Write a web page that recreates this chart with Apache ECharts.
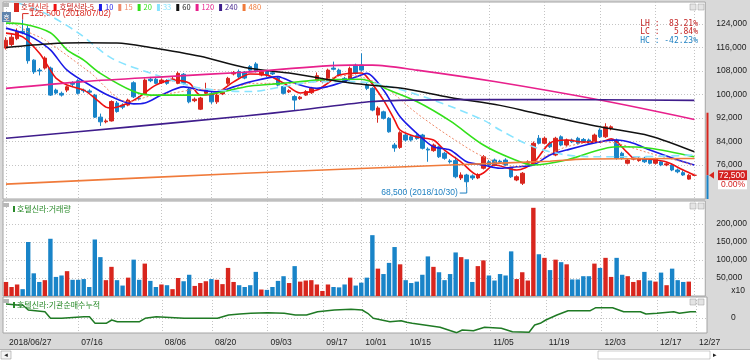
<!DOCTYPE html>
<html><head><meta charset="utf-8">
<script src="https://cdn.jsdelivr.net/npm/echarts@6/dist/echarts.min.js"></script>
<style>html,body{margin:0;padding:0;background:#fff}#c{width:750px;height:360px}</style>
</head><body><div id="c"></div>
<script>
// ---------- DATA ----------
const tickIdx = [0,13,28,37,47,57,64,72,87,97,107,117,124];
const tickLabels = ['2018/06/27','07/16','08/06','08/20','09/03','09/17','10/01','10/15','11/05','11/19','12/03','12/17','12/27'];
const priceTicks = [76000,84000,92000,100000,108000,116000,124000];
const volTicks = [50000,100000,150000,200000];
const instTicks = [0];

const open = [115800,117000,119000,121500,122500,111700,108300,109000,109000,101500,
100400,101500,104000,104700,101500,101200,99800,92300,90700,91000,
97100,96400,96400,104000,98800,100200,105200,105200,104000,104700,
104900,103800,106900,101800,97900,95000,100400,100200,97500,100200,
103800,107000,107800,107600,109500,110400,106600,107800,107400,105600,
102700,100900,99300,98600,99800,100600,104700,104400,104400,109000,
108300,105500,105200,110000,110000,103200,102100,93000,94100,91900,
82800,82000,86200,85600,86000,86200,81400,80900,82200,80000,
77400,77500,71600,72600,72300,71600,74900,77100,77700,77300,
77700,74900,70900,69800,76600,76600,85100,83400,83400,79400,
85600,82800,84500,85100,84700,84500,83900,87900,85600,88500,
84500,80000,76600,78000,77500,78300,77700,76600,77100,76000,
76000,74300,73400,71200,72500];
const high = [119500,120500,122500,125500,123500,112000,109000,113000,109500,102000,
101000,103000,104500,105200,102000,101800,100200,93500,91600,98000,
97800,97000,98600,104500,99500,105500,106000,106000,105500,105200,
106000,107800,107300,102200,99000,99200,104000,100800,100500,101500,
106000,108000,108500,108000,110000,111000,108300,108300,107900,106000,
103000,101800,99800,99500,101500,102600,107500,105500,108800,111200,
108800,106000,109500,110500,114000,104000,102500,96000,94500,92300,
83500,87500,86800,86200,86500,86600,82000,83300,82600,80500,
78000,78800,73500,73000,72800,73200,79400,77700,78200,77800,
78300,75400,72500,73600,77600,84000,86200,85700,84000,85600,
86100,85000,85000,85600,85200,85000,86700,88500,90200,89500,
85000,80500,78200,78800,78800,78800,78200,78500,77600,76900,
76500,74800,74200,72900,72500];
const low = [115300,116500,118500,120500,110500,107000,106500,108500,99500,100000,
99300,100800,102500,100000,100600,100300,92000,89300,90200,90800,
93800,95000,96000,98800,98000,99800,104200,103500,103600,103300,
104500,103500,103200,97000,97400,94700,100000,96800,96800,99800,
103300,106500,105500,105200,108000,107500,106200,106000,106600,102800,
100000,100500,94700,98200,99500,100200,104300,104000,104000,108200,
106200,104000,104800,106800,107800,101500,94300,90400,91500,87000,
80500,81500,84000,84000,84600,81300,77100,80500,78400,77800,
76500,71500,70900,68500,70900,71200,74500,75500,75600,76300,
75700,71600,70500,69200,76200,76200,83000,83000,81800,79000,
82400,82300,83500,83000,83500,83000,83500,85200,85200,87800,
77800,77800,76200,77600,77100,76700,76200,76200,75600,75600,
73900,73200,72300,71000,72500];
const close = [118500,119500,121500,121000,111500,107700,108000,112400,99800,100500,
99800,102600,103500,100400,101300,100800,92300,90700,91000,97600,
94200,95700,98100,99200,98500,104900,104700,103800,104900,103800,
105300,107200,103800,97500,98400,98800,101500,97500,99800,100800,
105500,107400,106000,105600,108300,107800,107800,106600,107000,103200,
100400,101300,98100,99100,101000,102100,106400,104900,108300,108600,
106600,104400,108900,107200,108300,102100,94700,95400,91900,87300,
81800,87000,84500,84500,85000,81700,81100,82800,78800,78300,
77100,72000,72600,70300,71600,72600,78800,76000,76000,77000,
76000,72000,72000,73200,77100,83400,83400,85100,82200,85100,
82800,84500,83900,83400,83900,83400,86200,85600,89000,89000,
78300,78300,77700,78300,78300,77100,76600,78000,76000,76400,
74300,73700,72600,72500,72500];
const volume = [39000,25000,32000,19000,150000,63000,39000,44000,159000,53000,
57000,69000,45000,45000,47000,25000,157000,108000,44000,81000,
44000,29000,51000,101000,45000,90000,42000,25000,32000,30000,
19000,50000,41000,59000,28000,36000,41000,47000,45000,33000,
78000,39000,30000,25000,30000,67000,18000,17000,25000,42000,
55000,36000,83000,40000,43000,44000,32000,14000,32000,25000,
24000,32000,51000,29000,37000,51000,169000,76000,61000,92000,
136000,88000,44000,36000,40000,59000,110000,81000,66000,44000,
61000,121000,108000,102000,39000,83000,99000,57000,43000,61000,
57000,124000,47000,66000,43000,245000,116000,106000,72000,101000,
94000,88000,46000,46000,55000,55000,90000,78000,106000,53000,
106000,59000,55000,39000,44000,67000,43000,40000,65000,30000,
76000,44000,39000,40000,0];

const ma5 = [[0,120900],[3,119600],[6,114100],[8,108300],[9,105600],[11,103200],[14,101500],[16,98800],[18,95700],[19,95400],[22,97100],[24,99200],[27,103200],[30,104900],[33,103900],[35,99800],[38,100500],[41,104300],[44,107000],[47,106600],[50,103900],[53,100500],[56,101500],[58,103900],[60,106600],[64,107300],[65,106000],[68,98100],[70,91300],[71,87900],[74,85500],[77,84500],[79,81100],[82,77000],[85,72600],[86,73300],[88,76000],[92,74300],[95,76700],[98,83500],[101,84500],[104,83800],[107,83800],[109,84900],[112,80100],[113,78400],[116,78000],[119,77000],[122,74300],[124,72600]];
const ma10 = [[0,122600],[3,120900],[5,119200],[8,115200],[11,108300],[16,102200],[19,99200],[23,96800],[25,97100],[28,99800],[32,102600],[35,101500],[38,100900],[41,102600],[44,104300],[49,106100],[50,105500],[53,103200],[56,102100],[58,102700],[60,103800],[64,106600],[65,107200],[68,101500],[71,92400],[74,86800],[77,82200],[80,81100],[83,77100],[86,76000],[89,74900],[92,75400],[95,76000],[98,79400],[101,81100],[107,83900],[110,84500],[113,83400],[116,81100],[122,77100],[124,76000]];
const ma15 = [[0,126000],[4,121300],[7,118600],[15,107700],[22,97500],[26,99500],[30,100500],[35,101800],[40,101500],[44,103800],[53,103800],[62,106600],[68,102700],[74,93600],[80,85600],[86,78800],[92,75400],[95,77100],[101,82200],[107,83900],[110,83400],[116,80000],[124,76000]];
const ma20 = [[0,124300],[3,124000],[8,121000],[11,115200],[14,111700],[17,107200],[23,101000],[26,99800],[35,99800],[44,102900],[50,103800],[56,104900],[64,105200],[69,101500],[74,97600],[80,91000],[86,82800],[91,78300],[95,76000],[101,77700],[110,82200],[116,81700],[124,78800]];
const ma33 = [[0,132500],[7,127700],[13,121000],[19,112400],[26,107300],[35,102200],[44,101000],[50,102700],[56,104400],[62,104400],[68,103200],[77,98100],[86,91300],[89,87900],[95,82200],[101,79400],[107,78800],[113,78800],[124,79400]];
const ma60 = [[0,116000],[8,117300],[14,117600],[20,117500],[26,116000],[35,113000],[43,109200],[51,107300],[62,103900],[71,102200],[80,99000],[89,96300],[95,93800],[107,89000],[116,85900],[124,80500]];
const ma120 = [[0,102100],[14,104400],[29,106100],[43,107600],[62,110000],[66,110000],[74,108300],[88,104400],[107,98100],[124,91500]];
const ma240 = [[0,85100],[22,88900],[43,92700],[53,94700],[66,97600],[74,98100],[89,98300],[107,98200],[124,98000]];
const ma480 = [[0,69500],[43,73200],[80,76000],[98,77300],[104,78000],[124,78200]];
const inst = [[0,14],[2,13],[3,13],[4,8],[7,6.3],[8,-0.3],[10,-0.3],[14,1.3],[15,1.3],[16,-5.3],[18,-5.3],[19,-2],[20,-3.7],[24,-3.7],[25,-0.3],[27,1.3],[32,-0.3],[38,-0.3],[40,3],[42,4],[44,4.7],[47,5.3],[50,4.7],[52,3],[54,3],[56,6.3],[59,8],[62,8.7],[64,8],[65,4.7],[66,-0.3],[69,-3.7],[71,-2.7],[72,-4.3],[73,-5.3],[78,-9.3],[81,-14.7],[82,-12],[84,-12.7],[86,-9.3],[89,-10.3],[91,-13.7],[94,-14.3],[95,-7],[96,-5.3],[97,-2],[99,3],[101,7.3],[105,7.3],[106,10.3],[109,10.3],[111,6.3],[114,6.3],[115,4],[117,4.7],[120,6.3],[121,4.7],[123,6.3],[124,6.3]];
const hiNote = {idx:3, text:'(2018/07/02)'};
const loNote = {idx:83, text:'(2018/10/30)'};
const rangeTop = 93800;

// ---------- STYLE ----------
const RED = '#d8261e', BLUE = '#1984c8';
const NUM = 'Liberation Sans';
const KR = 'Noto Sans CJK KR';
const fmt = v => Math.round(v).toLocaleString('en-US');
const X_MIN = -0.54, X_MAX = 125.97;
const isUp = i => close[i] > open[i] ? true : close[i] < open[i] ? false : (i > 0 ? close[i] >= close[i-1] : true);

const maDefs = [
  {name:'호텔신라-5', data:ma5, color:'#ee1111', width:1.6},
  {name:'10', data:ma10, color:'#1a1ae6', width:1.6},
  {name:'15', data:ma15, color:'#f08a6a', width:1, type:[2,2]},
  {name:'20', data:ma20, color:'#33e01a', width:1.6},
  {name:'33', data:ma33, color:'#88e4ff', width:1.6, type:[8,5]},
  {name:'60', data:ma60, color:'#111111', width:1.5},
  {name:'120', data:ma120, color:'#e8208c', width:1.6},
  {name:'240', data:ma240, color:'#3f1d8c', width:1.6},
  {name:'480', data:ma480, color:'#f07a3a', width:1.6}
];

const grids = [
  {left:3, top:2, width:704, height:197},
  {left:3, top:201, width:704, height:95},
  {left:3, top:297, width:704, height:36}
].map(g => Object.assign(g, {show:true, backgroundColor:'#ffffff', borderColor:'#a4a4a4', borderWidth:1}));

const dotted = {show:true, lineStyle:{color:'#c4c4c4', type:[1,2], width:1}};

const xAxes = [0,1,2].map(g => ({
  type:'value', gridIndex:g, min:X_MIN, max:X_MAX,
  axisLine:{show:false},
  axisTick:{show:false, customValues:tickIdx},
  axisLabel:{show:g===2, customValues:tickIdx, formatter:v => tickLabels[tickIdx.indexOf(Math.round(v))] || '',
    align:'left', padding:[0,0,0,3], margin:5, fontSize:8.5, fontFamily:NUM, color:'#222'},
  splitLine:dotted
}));

const yAxes = [
  {type:'value', gridIndex:0, position:'right', min:64430, max:131490,
   axisLine:{show:false}, axisTick:{show:false, customValues:priceTicks},
   axisLabel:{customValues:priceTicks, formatter:fmt, margin:11, align:'left', fontSize:8.5, fontFamily:NUM, color:'#222'},
   splitLine:dotted},
  {type:'value', gridIndex:1, position:'right', min:0, max:263900,
   axisLine:{show:false}, axisTick:{show:false, customValues:volTicks},
   axisLabel:{customValues:volTicks, formatter:fmt, margin:11, align:'left', fontSize:8.5, fontFamily:NUM, color:'#222'},
   splitLine:dotted},
  {type:'value', gridIndex:2, position:'right', min:-15, max:21,
   axisLine:{show:false}, axisTick:{show:false, customValues:instTicks},
   axisLabel:{customValues:instTicks, formatter:v => fmt(v), margin:24, align:'left', fontSize:8.5, fontFamily:NUM, color:'#222'},
   splitLine:dotted}
];

const series = [
  {name:'호텔신라', type:'candlestick', xAxisIndex:0, yAxisIndex:0,
   data: open.map((o,i) => [i, o, close[i], low[i], high[i]]),
   encode:{x:0, y:[1,2,3,4]}, barWidth:4, z:2,
   itemStyle:{color:RED, color0:BLUE, borderColor:RED, borderColor0:BLUE, borderWidth:1}},
  {name:'거래량', type:'bar', xAxisIndex:1, yAxisIndex:1, barWidth:4.4,
   data: volume.map((v,i) => ({value:[i, v], itemStyle:{color: isUp(i) ? RED : BLUE}}))},
  {name:'기관순매수누적', type:'line', xAxisIndex:2, yAxisIndex:2, data:inst, showSymbol:false,
   lineStyle:{color:'#1f7a24', width:1.5}, color:'#1f7a24'}
].concat(maDefs.map(m => ({
  name:m.name, type:'line', xAxisIndex:0, yAxisIndex:0, data:m.data, showSymbol:false, smooth:0.3, z:3,
  color:m.color, lineStyle:{color:m.color, width:m.width, type:m.type || 'solid'}
})));

const legendItems = [{name:'호텔신라', color:'#d42a20'}].concat(maDefs.map(m => ({name:m.name, color: m.name==='호텔신라-5' ? '#c41a14' : m.color})));

const option = {
  animation:false,
  backgroundColor:'#d9d9d9',
  grid:grids, xAxis:xAxes, yAxis:yAxes, series,
  legend:{left:14, top:3, icon:'rect', itemWidth:3, itemHeight:7, itemGap:5, padding:0, selectedMode:false,
    textStyle:{fontSize:7.5, fontFamily:KR, padding:[0,0,0,-2]},
    data: legendItems.map(l => ({name:l.name, textStyle:{color:l.color}}))}
};

const chart = echarts.init(document.getElementById('c'));
chart.setOption(option);

// ---------- ANNOTATIONS (positions from the axes) ----------
const P = (g, x, y) => chart.convertToPixel({gridIndex:g}, [x, y]);
const g = [];
const last = close.length - 1;
const hiVal = Math.max(...high), loVal = Math.min(...low), lastClose = close[last];
const txt = (x, y, text, color, size, align, font, extra) => ({type:'text', x, y, silent:true,
  style:Object.assign({text, fill:color, fontSize:size, fontFamily:font || NUM, align:align || 'left', verticalAlign:'middle'}, extra || {})});

// LH / LC / HC box
g.push(txt(698, 24, 'LH :  ' + ((hiVal/loVal-1)*100).toFixed(2) + '%', '#c42424', 8, 'right', 'DejaVu Sans Mono'));
g.push(txt(698, 32, 'LC :   ' + ((lastClose/loVal-1)*100).toFixed(2) + '%', '#c42424', 8, 'right', 'DejaVu Sans Mono'));
g.push(txt(698, 40.5, 'HC : ' + ((lastClose/hiVal-1)*100).toFixed(2) + '%', '#1c7fc0', 8, 'right', 'DejaVu Sans Mono'));

// high / low notes
const ph = P(0, hiNote.idx, high[hiNote.idx]);
g.push({type:'polyline', silent:true, shape:{points:[[ph[0], ph[1]], [ph[0], ph[1]-6], [ph[0]+6, ph[1]-6]]}, style:{stroke:RED, lineWidth:1, fill:null}});
g.push(txt(ph[0]+7, ph[1]-6, fmt(high[hiNote.idx]) + ' ' + hiNote.text, RED, 8.5));
const pl = P(0, loNote.idx, low[loNote.idx]);
g.push({type:'polyline', silent:true, shape:{points:[[pl[0], pl[1]], [pl[0], pl[1]+6], [pl[0]-7, pl[1]+6]]}, style:{stroke:'#1c7fc0', lineWidth:1, fill:null}});
g.push(txt(pl[0]-9, pl[1]+6, fmt(low[loNote.idx]) + ' ' + loNote.text, '#1c7fc0', 8.5, 'right'));

// last price tag and range bar
const pc = P(0, last, lastClose)[1];
const pt = P(0, last, rangeTop)[1];
g.push({type:'line', silent:true, shape:{x1:707.5, y1:pt, x2:707.5, y2:pc}, style:{stroke:RED, lineWidth:2}});
g.push({type:'line', silent:true, shape:{x1:707.5, y1:pc, x2:707.5, y2:199}, style:{stroke:BLUE, lineWidth:2}});
g.push({type:'polygon', silent:true, shape:{points:[[709,pc],[714,pc-3.5],[714,pc+3.5]]}, style:{fill:RED}});
g.push({type:'rect', silent:true, shape:{x:718, y:pc-5, width:29, height:10}, style:{fill:'#d42020'}});
g.push(txt(745, pc, fmt(lastClose), '#ffffff', 8.5, 'right'));
g.push({type:'rect', silent:true, shape:{x:718, y:pc+5, width:29, height:9}, style:{fill:'#ffffff'}});
g.push(txt(745, pc+9.5, ((lastClose/close[last-1]-1)*100).toFixed(2) + '%', '#d42020', 8.5, 'right'));
g.push(txt(745, 291, 'x10', '#222', 8.5, 'right'));

// panel icons and titles
g.push({type:'rect', silent:true, shape:{x:3, y:3, width:6, height:4}, style:{fill:'#b8b8b8'}});
g.push({type:'rect', silent:true, shape:{x:2, y:12, width:9, height:10}, style:{fill:'#5f84ad'}});
g.push(txt(6.5, 17, '호', '#ffffff', 7, 'center', KR));
[[203, '호텔신라:거래량'], [299, '호텔신라:기관순매수누적']].forEach(([y, t]) => {
  g.push({type:'rect', silent:true, shape:{x:3, y:y, width:6, height:4}, style:{fill:'#b8b8b8'}});
  g.push({type:'rect', silent:true, shape:{x:13, y:y+3, width:2, height:6}, style:{fill:'#2a8a2a'}});
  g.push(txt(17, y+6, t, '#2a8a2a', 8, 'left', KR));
});
[[2],[201],[297]].forEach(([y]) => {
  g.push({type:'rect', silent:true, shape:{x:690, y:y+2, width:6, height:6}, style:{fill:'#e4e4e4', stroke:'#9a9a9a', lineWidth:0.5}});
  g.push({type:'rect', silent:true, shape:{x:698, y:y+2, width:6, height:6}, style:{fill:'#e4e4e4', stroke:'#9a9a9a', lineWidth:0.5}});
});

// bottom scroll strip
g.push({type:'rect', silent:true, shape:{x:0, y:349, width:750, height:11}, style:{fill:'#ffffff'}});
g.push({type:'line', silent:true, shape:{x1:0, y1:349.5, x2:750, y2:349.5}, style:{stroke:'#b0b0b0', lineWidth:1}});
g.push({type:'rect', silent:true, shape:{x:1, y:351, width:10, height:8}, style:{fill:'#f4f4f4', stroke:'#888', lineWidth:0.5}});
g.push(txt(6, 355, '◂', '#222', 7, 'center', 'DejaVu Sans'));
g.push({type:'rect', silent:true, shape:{x:598, y:351, width:112, height:8}, style:{fill:'#ffffff', stroke:'#999', lineWidth:0.5}});
g.push(txt(713, 355, '▸', '#222', 7, 'left', 'DejaVu Sans'));

chart.setOption({graphic:g});
</script></body></html>
